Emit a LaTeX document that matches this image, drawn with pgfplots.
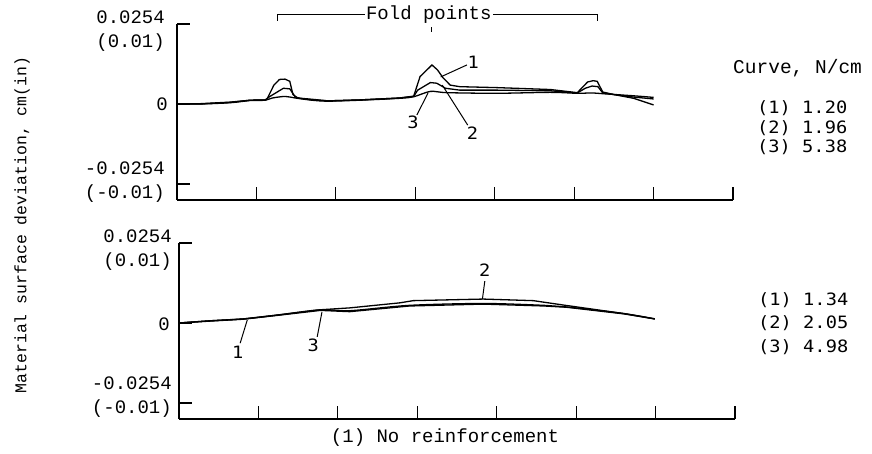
\documentclass[border=0pt]{standalone}
\usepackage{fontspec}
\setmainfont{Liberation Mono}
\setmonofont{Liberation Mono}
\newfontfamily\lgfont[FakeStretch=1.1]{DejaVu Sans Mono}
\usepackage{pgfplots}
\pgfplotsset{compat=1.18}
\newcommand\tf{\fontsize{19}{24}\selectfont}
\newcommand\lf{\lgfont\fontsize{17}{21}\selectfont}

\pgfplotstableread{
x y
0 0
0.29 0
0.67 0.0005
0.92 0.0012
1.11 0.0013
1.13 0.0014
1.22 0.0060
1.29 0.0078
1.36 0.0079
1.42 0.0072
1.46 0.0030
1.52 0.0019
1.7 0.0015
1.9 0.0010
2.3 0.0013
2.8 0.0019
2.98 0.0025
3.06 0.0087
3.21 0.0124
3.28 0.0108
3.35 0.0083
3.44 0.0060
3.56 0.0055
4.03 0.0052
4.70 0.0046
5.04 0.0036
5.17 0.0070
5.24 0.0074
5.29 0.0072
5.36 0.0038
5.5 0.0030
5.75 0.0018
6.0 -0.0003
}\topone
\pgfplotstableread{
x y
0 0
0.29 0.0001
0.67 0.0006
0.92 0.0012
1.11 0.0013
1.17 0.0024
1.34 0.0050
1.42 0.0048
1.49 0.0022
1.55 0.0018
1.7 0.0013
1.9 0.0010
2.3 0.0013
2.8 0.0019
2.98 0.0024
3.03 0.0044
3.19 0.0068
3.27 0.0066
3.38 0.0050
3.56 0.0044
4.03 0.0044
4.70 0.0042
5.04 0.0035
5.14 0.0050
5.225 0.0057
5.3 0.0055
5.36 0.0035
5.5 0.0030
5.75 0.0022
6.0 0.0016
}\toptwo
\pgfplotstableread{
x y
0 0
0.29 0
0.67 0.0004
0.92 0.0011
1.11 0.0012
1.2 0.0019
1.36 0.0024
1.49 0.0019
1.7 0.0012
1.9 0.0009
2.3 0.0012
2.8 0.0018
2.98 0.0023
3.19 0.0040
3.40 0.0036
4.03 0.0034
4.70 0.0037
5.04 0.0034
5.225 0.0035
5.4 0.0032
5.75 0.0026
6.0 0.0021
}\topthree
\pgfplotstableread{
x y
0 0
0.39 0.0006
0.81 0.0012
1.23 0.0024
1.78 0.0040
2.15 0.0036
2.9 0.0054
3.83 0.0060
4.6 0.0054
4.88 0.0050
5.6 0.0029
5.99 0.0013
}\botone
\pgfplotstableread{
x y
0 0
0.39 0.0007
0.81 0.0013
1.23 0.0025
1.78 0.0042
2.15 0.0048
2.78 0.0064
2.95 0.0071
3.83 0.0076
4.46 0.0071
4.84 0.0057
5.6 0.0030
5.99 0.0013
}\bottwo
\pgfplotstableread{
x y
0 0
0.39 0.0007
0.81 0.0013
1.23 0.0025
1.78 0.0042
2.15 0.0039
2.9 0.0056
3.83 0.0062
4.6 0.0056
4.88 0.0051
5.6 0.0030
5.99 0.0013
}\botthree

\pgfplotsset{panel/.style={
  scale only axis, width=556pt, height=176pt,
  xmin=0, xmax=7, ymin=-0.03048, ymax=0.0254,
  axis x line*=bottom, axis y line*=left,
  xtick={1,2,3,4,5,6,7}, xticklabels={},
  ytick={-0.0254,0,0.0254}, yticklabels={},
  scaled y ticks=false, scaled x ticks=false,
  tick align=inside, major tick length=13pt,
  axis line style={line width=1.1pt, black},
  tick style={line width=1.1pt, black},
  clip=false, anchor=south west,
  cycle list={{black, no markers, smooth, tension=0.35}},
  every axis plot post/.append style={line width=1.3pt},
}}

\begin{document}
\begin{tikzpicture}
\useasboundingbox (0,0) rectangle (872pt,453pt);
% top panel
\begin{axis}[panel, at={(177pt,253pt)}]
\addplot table[x=x,y=y] {\topone};
\addplot table[x=x,y=y] {\toptwo};
\addplot table[x=x,y=y] {\topthree};
% leaders
\draw[line width=1pt] (axis cs:3.32,0.0086) -- (axis cs:3.65,0.0124);
\draw[line width=1pt] (axis cs:3.34,0.0060) -- (axis cs:3.66,-0.0067);
\draw[line width=1pt] (axis cs:3.16,0.0035) -- (axis cs:3.02,-0.0035);
\node[font=\lf] at (axis cs:3.73,0.0133) {1};
\node[font=\lf] at (axis cs:3.72,-0.0092) {2};
\node[font=\lf] at (axis cs:2.97,-0.0057) {3};
% fold points bracket
\draw[line width=1pt] (axis cs:1.27,0.0264) -- (axis cs:1.27,0.0283) -- (axis cs:5.29,0.0283) -- (axis cs:5.29,0.0264);
\draw[line width=1pt] (axis cs:3.21,0.0244) -- (axis cs:3.21,0.0229);
\node[fill=white, inner sep=1pt, font=\tf] at (axis cs:3.17,0.0283) {Fold points};
\end{axis}
% bottom panel
\begin{axis}[panel, at={(179pt,34pt)}]
\addplot table[x=x,y=y] {\botone};
\addplot table[x=x,y=y] {\bottwo};
\addplot table[x=x,y=y] {\botthree};
\draw[line width=1pt] (axis cs:3.82,0.0076) -- (axis cs:3.85,0.0133);
\draw[line width=1pt] (axis cs:1.80,0.0035) -- (axis cs:1.74,-0.0044);
\draw[line width=1pt] (axis cs:0.86,0.0010) -- (axis cs:0.77,-0.0064);
\node[font=\lf] at (axis cs:3.85,0.0168) {2};
\node[font=\lf] at (axis cs:1.69,-0.0070) {3};
\node[font=\lf] at (axis cs:0.74,-0.0092) {1};
\end{axis}
% y tick labels
\node[anchor=east, align=right, inner sep=0, font=\tf] at (165pt,422pt) {0.0254\\(0.01)};
\node[anchor=east, inner sep=0, font=\tf] at (168pt,349pt) {0};
\node[anchor=east, align=right, inner sep=0, font=\tf] at (165pt,271pt) {-0.0254\\(-0.01)};
\node[anchor=east, align=right, inner sep=0, font=\tf] at (172pt,203pt) {0.0254\\(0.01)};
\node[anchor=east, inner sep=0, font=\tf] at (170pt,129pt) {0};
\node[anchor=east, align=right, inner sep=0, font=\tf] at (172pt,56pt) {-0.0254\\(-0.01)};
% axis label
\node[rotate=90, font=\fontsize{16.5}{20}\selectfont] at (22pt,228pt) {Material surface deviation, cm(in)};
\node[font=\tf] at (445pt,15pt) {(1) No reinforcement};
% legends
\node[anchor=west, inner sep=0, font=\fontsize{19.5}{24}\selectfont] at (733pt,385pt) {Curve, N/cm};
\node[anchor=west, inner sep=0, font=\lf] at (757pt,345pt) {(1) 1.20};
\node[anchor=west, inner sep=0, font=\lf] at (757pt,325pt) {(2) 1.96};
\node[anchor=west, inner sep=0, font=\lf] at (757pt,306pt) {(3) 5.38};
\node[anchor=west, inner sep=0, font=\lf] at (758pt,153pt) {(1) 1.34};
\node[anchor=west, inner sep=0, font=\lf] at (758pt,130pt) {(2) 2.05};
\node[anchor=west, inner sep=0, font=\lf] at (758pt,106pt) {(3) 4.98};
\end{tikzpicture}
\end{document}
